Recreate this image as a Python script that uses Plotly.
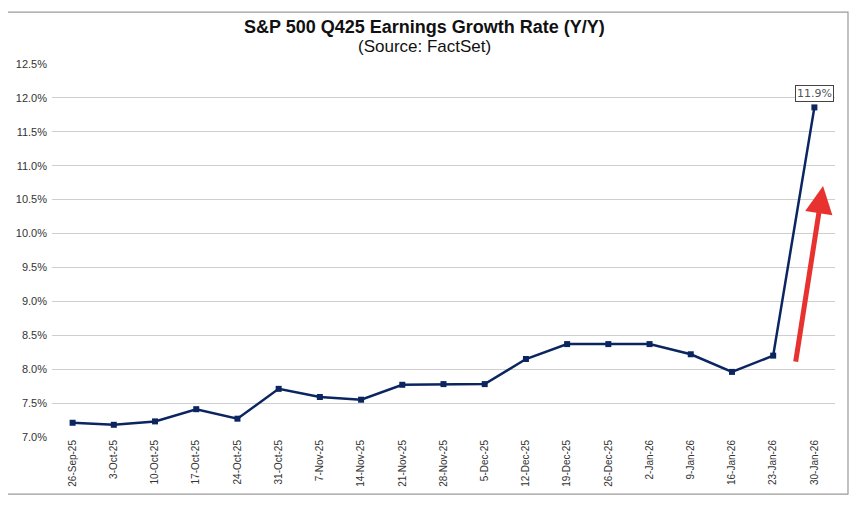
import plotly.graph_objects as go

# weekly FactSet estimates for Q4'25 earnings growth
dates = ["26-Sep-25", "3-Oct-25", "10-Oct-25", "17-Oct-25", "24-Oct-25", "31-Oct-25",
         "7-Nov-25", "14-Nov-25", "21-Nov-25", "28-Nov-25", "5-Dec-25", "12-Dec-25",
         "19-Dec-25", "26-Dec-25", "2-Jan-26", "9-Jan-26", "16-Jan-26", "23-Jan-26",
         "30-Jan-26"]
growth = [7.21, 7.18, 7.23, 7.41, 7.27, 7.71, 7.59, 7.55, 7.77, 7.78, 7.78, 8.15,
          8.37, 8.37, 8.37, 8.22, 7.96, 8.20, 11.86]

y_ticks = [7.0, 7.5, 8.0, 8.5, 9.0, 9.5, 10.0, 10.5, 11.0, 11.5, 12.0, 12.5]
y_labels = ["7.0%", "7.5%", "8.0%", "8.5%", "9.0%", "9.5%", "10.0%", "10.5%",
            "11.0%", "11.5%", "12.0%", "12.5%"]

navy = "#0b2561"

fig = go.Figure()
fig.add_trace(go.Scatter(
    x=dates, y=growth, mode="lines+markers",
    line=dict(color=navy, width=2.5),
    marker=dict(symbol="square", size=6, color=navy),
    hoverinfo="x+y",
))

# label on the last point
fig.add_annotation(
    x=dates[-1], y=growth[-1], text=f"{growth[-1]:.1f}%",
    showarrow=False, yshift=14,
    font=dict(family="DejaVu Sans", size=11, color="#555555"),
    bordercolor="#444444", borderwidth=1, borderpad=1, bgcolor="white",
)

# red arrow highlighting the jump
fig.add_annotation(
    x=18.21, y=10.70, ax=17.54, ay=8.09,
    xref="x", yref="y", axref="x", ayref="y",
    text="", showarrow=True, arrowhead=2, arrowsize=1.1,
    arrowwidth=5, arrowcolor="#e8322f",
)

# title block
fig.add_annotation(
    x=0.476, y=1.099, xref="paper", yref="paper", showarrow=False,
    text="<b>S&P 500 Q425 Earnings Growth Rate (Y/Y)</b>",
    font=dict(family="Liberation Sans", size=18, color="#111111"),
    yanchor="middle",
)
fig.add_annotation(
    x=0.476, y=1.046, xref="paper", yref="paper", showarrow=False,
    text="(Source: FactSet)",
    font=dict(family="Liberation Sans", size=17, color="#111111"),
    yanchor="middle",
)

# outer chart frame
fig.add_shape(
    type="rect", xref="paper", yref="paper",
    x0=-0.06, x1=1.0166, y0=-0.153, y1=1.139,
    line=dict(color="#9a9a9a", width=1.2),
)

# page body has an 8px margin, so shift the plot area by that
fig.update_layout(
    width=864, height=506,
    margin=dict(l=44, r=37, t=56, b=77),
    paper_bgcolor="white", plot_bgcolor="white",
    showlegend=False,
    font=dict(family="Liberation Sans", size=10, color="#333333"),
)
fig.update_xaxes(
    type="category", range=[-0.5, 18.5], tickangle=-90,
    showgrid=False, showline=False, ticks="", automargin=False,
    tickfont=dict(size=10, color="#333333"),
)
fig.update_yaxes(
    range=[7.0, 12.5], tickvals=y_ticks, ticktext=y_labels,
    showgrid=True, gridcolor="#cfcfcf", gridwidth=1,
    zeroline=False, showline=False, ticks="", automargin=False,
    ticklabelstandoff=4,
    tickfont=dict(size=11, color="#333333"),
)

fig.write_html("out.html")
